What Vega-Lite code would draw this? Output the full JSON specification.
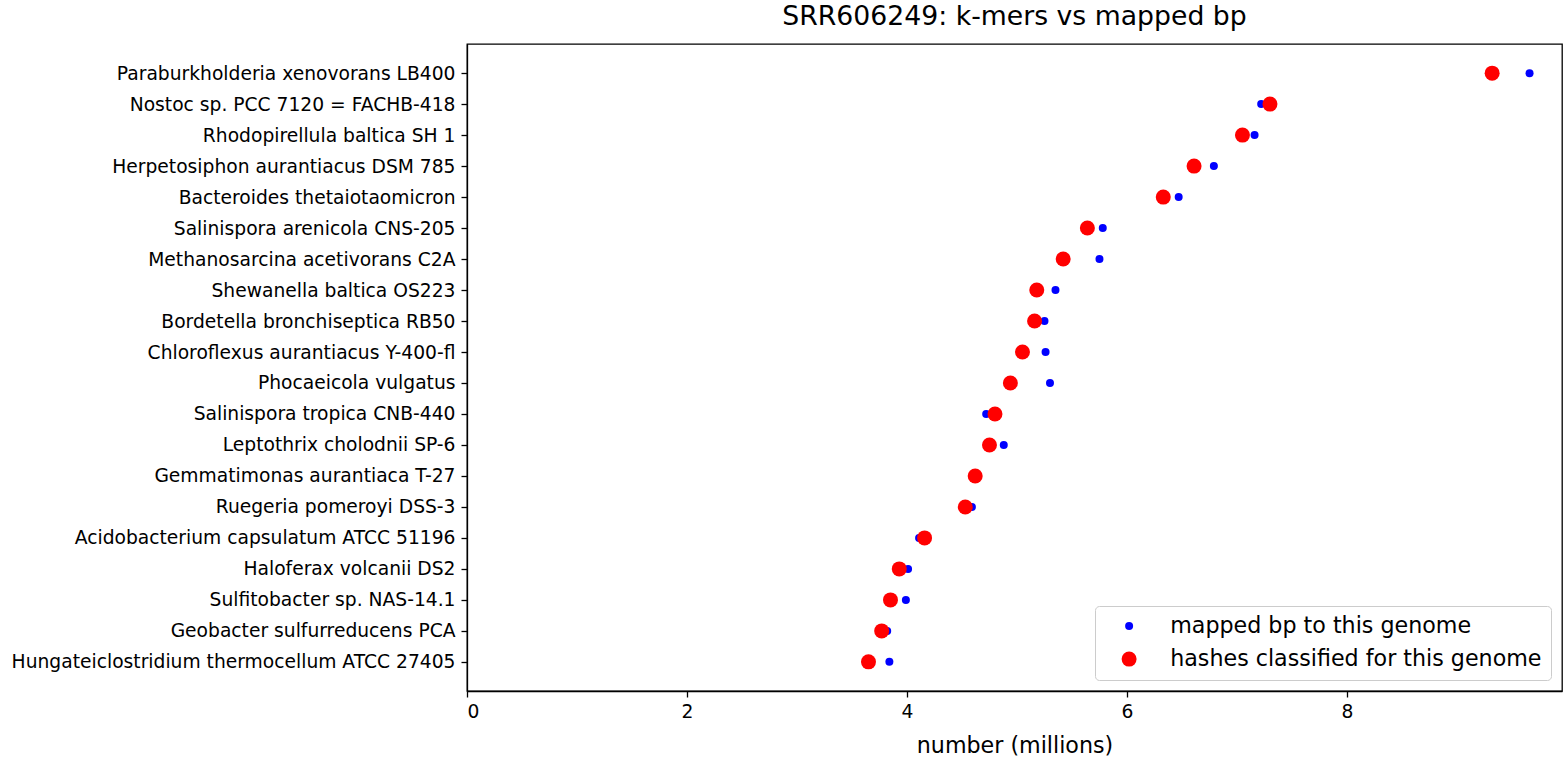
{
  "$schema": "https://vega.github.io/schema/vega-lite/v6.json",
  "width": 1095,
  "height": 647,
  "autosize": "none",
  "padding": {"left": 467, "top": 44, "right": 5, "bottom": 68},
  "background": "white",
  "title": {"text": "SRR606249: k-mers vs mapped bp", "font": "DejaVu Sans", "fontSize": 26.7, "fontWeight": "normal", "color": "black", "anchor": "middle", "baseline": "bottom", "offset": 9, "dy": 23},
  "config": {
    "view": {"stroke": "black", "strokeWidth": 1.3},
    "font": "DejaVu Sans"
  },
  "data": {"values": [
    {"genome": "Paraburkholderia xenovorans LB400", "series": "mapped bp to this genome", "value": 9.66},
    {"genome": "Nostoc sp. PCC 7120 = FACHB-418", "series": "mapped bp to this genome", "value": 7.22},
    {"genome": "Rhodopirellula baltica SH 1", "series": "mapped bp to this genome", "value": 7.16},
    {"genome": "Herpetosiphon aurantiacus DSM 785", "series": "mapped bp to this genome", "value": 6.79},
    {"genome": "Bacteroides thetaiotaomicron", "series": "mapped bp to this genome", "value": 6.47},
    {"genome": "Salinispora arenicola CNS-205", "series": "mapped bp to this genome", "value": 5.78},
    {"genome": "Methanosarcina acetivorans C2A", "series": "mapped bp to this genome", "value": 5.75},
    {"genome": "Shewanella baltica OS223", "series": "mapped bp to this genome", "value": 5.35},
    {"genome": "Bordetella bronchiseptica RB50", "series": "mapped bp to this genome", "value": 5.25},
    {"genome": "Chloroflexus aurantiacus Y-400-fl", "series": "mapped bp to this genome", "value": 5.26},
    {"genome": "Phocaeicola vulgatus", "series": "mapped bp to this genome", "value": 5.30},
    {"genome": "Salinispora tropica CNB-440", "series": "mapped bp to this genome", "value": 4.72},
    {"genome": "Leptothrix cholodnii SP-6", "series": "mapped bp to this genome", "value": 4.88},
    {"genome": "Gemmatimonas aurantiaca T-27", "series": "mapped bp to this genome", "value": 4.61},
    {"genome": "Ruegeria pomeroyi DSS-3", "series": "mapped bp to this genome", "value": 4.59},
    {"genome": "Acidobacterium capsulatum ATCC 51196", "series": "mapped bp to this genome", "value": 4.11},
    {"genome": "Haloferax volcanii DS2", "series": "mapped bp to this genome", "value": 4.01},
    {"genome": "Sulfitobacter sp. NAS-14.1", "series": "mapped bp to this genome", "value": 3.99},
    {"genome": "Geobacter sulfurreducens PCA", "series": "mapped bp to this genome", "value": 3.82},
    {"genome": "Hungateiclostridium thermocellum ATCC 27405", "series": "mapped bp to this genome", "value": 3.84},
    {"genome": "Paraburkholderia xenovorans LB400", "series": "hashes classified for this genome", "value": 9.32},
    {"genome": "Nostoc sp. PCC 7120 = FACHB-418", "series": "hashes classified for this genome", "value": 7.30},
    {"genome": "Rhodopirellula baltica SH 1", "series": "hashes classified for this genome", "value": 7.05},
    {"genome": "Herpetosiphon aurantiacus DSM 785", "series": "hashes classified for this genome", "value": 6.61},
    {"genome": "Bacteroides thetaiotaomicron", "series": "hashes classified for this genome", "value": 6.33},
    {"genome": "Salinispora arenicola CNS-205", "series": "hashes classified for this genome", "value": 5.64},
    {"genome": "Methanosarcina acetivorans C2A", "series": "hashes classified for this genome", "value": 5.42},
    {"genome": "Shewanella baltica OS223", "series": "hashes classified for this genome", "value": 5.18},
    {"genome": "Bordetella bronchiseptica RB50", "series": "hashes classified for this genome", "value": 5.16},
    {"genome": "Chloroflexus aurantiacus Y-400-fl", "series": "hashes classified for this genome", "value": 5.05},
    {"genome": "Phocaeicola vulgatus", "series": "hashes classified for this genome", "value": 4.94},
    {"genome": "Salinispora tropica CNB-440", "series": "hashes classified for this genome", "value": 4.80},
    {"genome": "Leptothrix cholodnii SP-6", "series": "hashes classified for this genome", "value": 4.75},
    {"genome": "Gemmatimonas aurantiaca T-27", "series": "hashes classified for this genome", "value": 4.62},
    {"genome": "Ruegeria pomeroyi DSS-3", "series": "hashes classified for this genome", "value": 4.53},
    {"genome": "Acidobacterium capsulatum ATCC 51196", "series": "hashes classified for this genome", "value": 4.16},
    {"genome": "Haloferax volcanii DS2", "series": "hashes classified for this genome", "value": 3.93},
    {"genome": "Sulfitobacter sp. NAS-14.1", "series": "hashes classified for this genome", "value": 3.85},
    {"genome": "Geobacter sulfurreducens PCA", "series": "hashes classified for this genome", "value": 3.77},
    {"genome": "Hungateiclostridium thermocellum ATCC 27405", "series": "hashes classified for this genome", "value": 3.65}
  ]},
  "mark": {"type": "point", "shape": "circle", "filled": true, "opacity": 1},
  "encoding": {
    "x": {"field": "value", "type": "quantitative", "title": "number (millions)", "scale": {"domain": [0, 9.955], "nice": false, "zero": false},
      "axis": {"values": [0, 2, 4, 6, 8], "format": "d", "titlePadding": 14, "grid": false, "labelFont": "DejaVu Sans", "titleFont": "DejaVu Sans", "labelFontSize": 18.7, "titleFontSize": 22.2, "titleFontWeight": "normal", "labelColor": "black", "titleColor": "black", "domainColor": "black", "tickColor": "black", "domainWidth": 1.3, "tickWidth": 1.3, "tickSize": 6, "labelPadding": 5}},
    "y": {"field": "genome", "type": "nominal", "title": null, "sort": null, "scale": {"padding": 0.94},
      "axis": {"grid": false, "labelFont": "DejaVu Sans", "labelFontSize": 18.7, "labelColor": "black", "labelLimit": 0, "domainColor": "black", "tickColor": "black", "domainWidth": 1.3, "tickWidth": 1.3, "tickSize": 6, "labelPadding": 6}},
    "color": {"field": "series", "type": "nominal", "scale": {"domain": ["mapped bp to this genome", "hashes classified for this genome"], "range": ["#0000ff", "#ff0000"]},
      "legend": {"title": null, "orient": "bottom-right", "offset": 11, "labelFont": "DejaVu Sans", "labelFontSize": 22.2, "labelLimit": 0, "labelColor": "black", "strokeColor": "#cccccc", "fillColor": "white", "cornerRadius": 4, "padding": 9, "rowPadding": 10, "labelOffset": 30, "symbolOffset": 14, "symbolStrokeWidth": 0}},
    "size": {"field": "series", "type": "nominal", "scale": {"domain": ["mapped bp to this genome", "hashes classified for this genome"], "range": [64, 225]}, "legend": null}
  }
}
